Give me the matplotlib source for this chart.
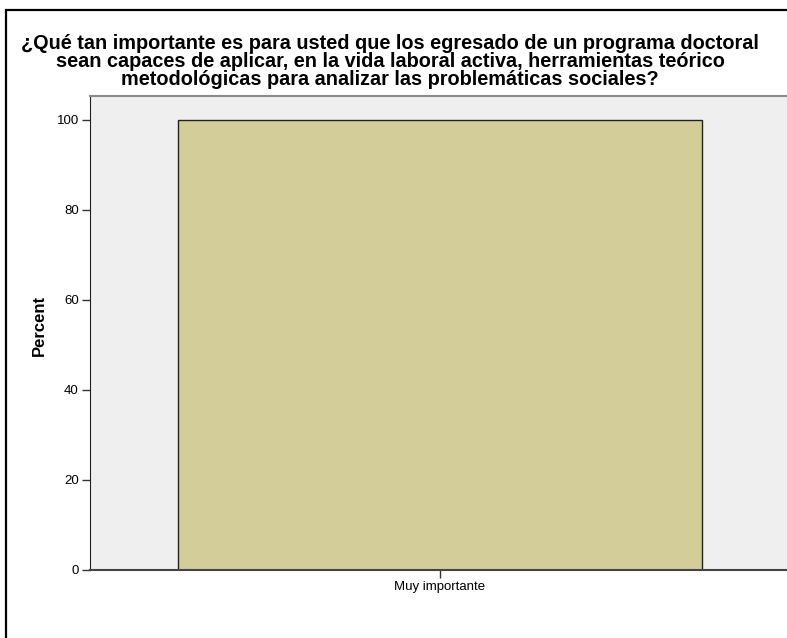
import matplotlib
matplotlib.use("Agg")
import matplotlib.pyplot as plt
from matplotlib.patches import Rectangle

categories = ["Muy importante"]
percents = [100.0]
yticks = [0, 20, 40, 60, 80, 100]

title = ("¿Qué tan importante es para usted que los egresado de un programa doctoral\n"
         "sean capaces de aplicar, en la vida laboral activa, herramientas teórico\n"
         "metodológicas para analizar las problemáticas sociales?")

plt.rcParams["font.family"] = ["Liberation Sans", "DejaVu Sans"]

W, H = 787, 638
fig = plt.figure(figsize=(W / 100, H / 100), dpi=100)
fig.patch.set_facecolor("white")

# outer chart frame, running off the right and bottom edges
fig.add_artist(Rectangle((5.5 / W, -0.1), 1.2, 1 - 10.5 / H + 0.1,
                         transform=fig.transFigure, fill=False,
                         edgecolor="black", linewidth=1.6))

left, right, top, bottom = 90, 790, 96, 570
ax = fig.add_axes([left / W, 1 - bottom / H, (right - left) / W, (bottom - top) / H])
ax.set_facecolor("#efefef")

ax.bar(range(len(categories)), percents, width=0.75, color="#d3ce99",
       edgecolor="#222222", linewidth=1.0, zorder=2)

ax.set_xlim(-0.5, 0.5)
ax.set_ylim(0, 105.3)
ax.set_yticks(yticks)
ax.set_yticklabels([str(t) for t in yticks], fontsize=9.5)
ax.set_xticks(range(len(categories)))
ax.set_xticklabels(categories, fontsize=9.5)
ax.tick_params(axis="both", direction="out", length=6, width=1, color="#333333", pad=2)

ax.spines["left"].set_color("#222222")
ax.spines["bottom"].set_color("#444444")
ax.spines["bottom"].set_linewidth(1.5)
ax.spines["top"].set_color("#8a8a8a")
ax.spines["top"].set_linewidth(1.5)
ax.spines["right"].set_visible(False)

ax.set_ylabel("Percent", fontsize=12, fontweight="bold")
ax.yaxis.set_label_coords(-0.062, 0.515)

fig.text(390 / W, 1 - 34 / H, title, ha="center", va="top", fontsize=14.3,
         fontweight="bold", linespacing=0.92)

fig.savefig("out.png", dpi=100)
